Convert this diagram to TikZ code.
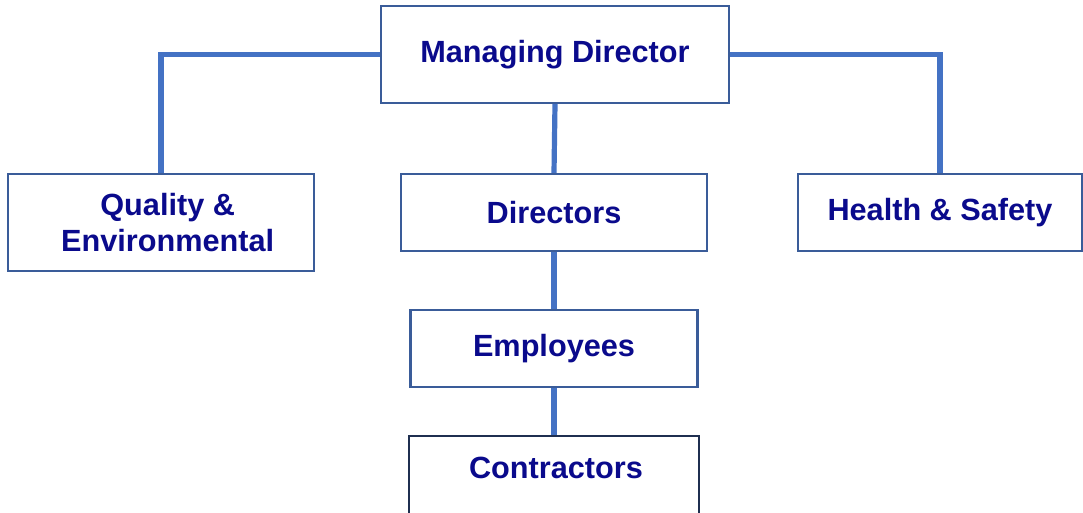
\documentclass[tikz,border=0pt]{standalone}
\usepackage{fontspec}
\setmainfont{Liberation Sans}
\definecolor{txtblue}{HTML}{0A0A8C}
\definecolor{linkblue}{HTML}{4472C4}
\definecolor{boxblue}{HTML}{3A5C99}
\definecolor{boxdark}{HTML}{1F2F50}
\begin{document}
\begin{tikzpicture}[x=0.75pt,y=-0.75pt,
  box/.style={draw=boxblue,line width=1.6pt,fill=white,rectangle,inner sep=0pt,
    align=center,text=txtblue,font=\fontsize{23}{27}\selectfont\bfseries},
  lbl/.style={inner sep=0pt,text=txtblue,font=\fontsize{23}{27}\selectfont\bfseries},
  link/.style={draw=linkblue,line width=3.9pt},
  linkthick/.style={draw=linkblue,line width=5.2pt}]
\useasboundingbox (0,0) rectangle (1083,512);
\node[box,minimum width=261pt,minimum height=72.75pt] (md) at (555,54.5) {Managing Director};
\node[box,minimum width=229.5pt,minimum height=72.75pt] (qe) at (161,222.5) {\hspace*{10pt}Quality \&\\\hspace*{10pt}Environmental};
\node[box,minimum width=229.5pt,minimum height=57.75pt] (dir) at (554,212.5) {Directors};
\node[box,minimum width=213pt,minimum height=57.75pt] (hs) at (940,212.5) {Health \& Safety};
\node[box,minimum width=215.25pt,minimum height=57.75pt] (emp) at (554,348.5) {Employees};
\node[box,draw=boxdark,minimum width=217.5pt,minimum height=60pt] (con) at (554,476) {};
\node[lbl] (contxt) at (556,468) {Contractors};
\draw[link] (md.west) -| (qe.north);
\draw[link] (md.east) -| (hs.north);
\draw[link] (md.south) -- (dir.north);
\draw[linkthick] (dir.south) -- (emp.north);
\draw[linkthick] (emp.south) -- (con.north);
\end{tikzpicture}
\end{document}
